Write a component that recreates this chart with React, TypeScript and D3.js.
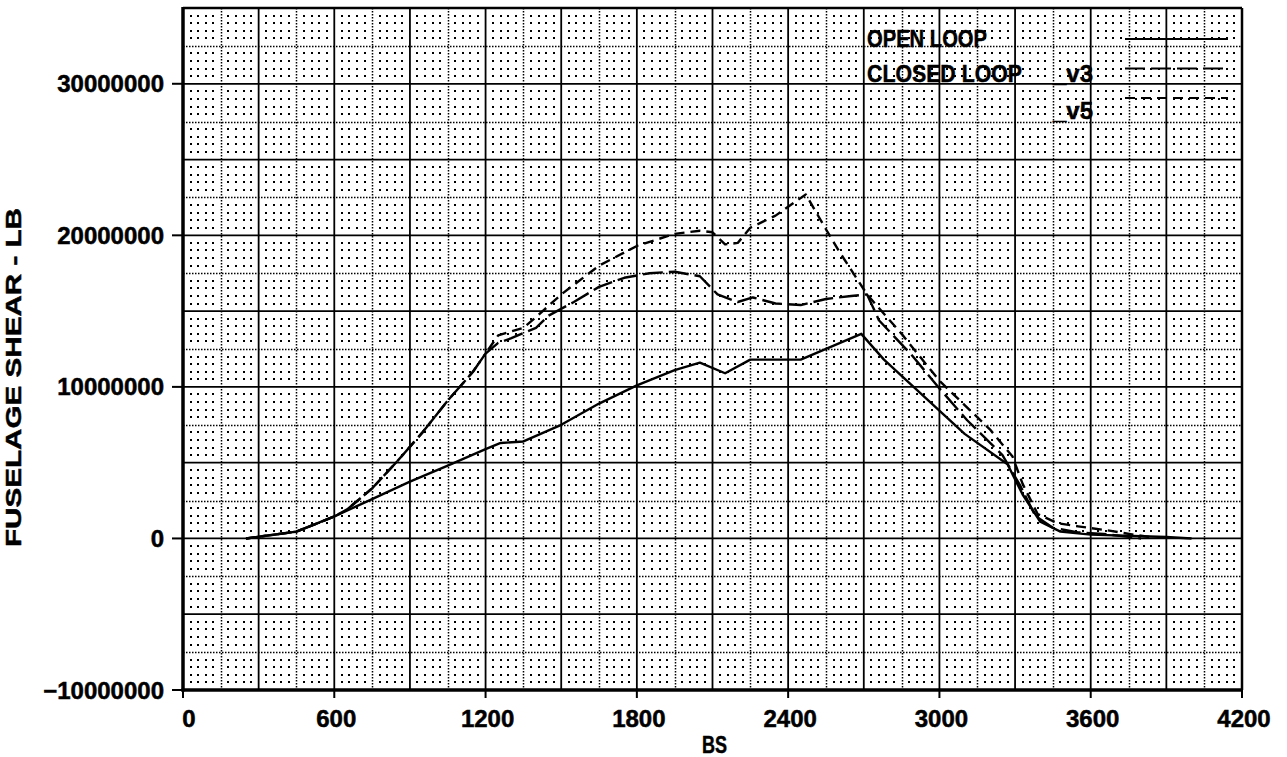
import React from 'react';
import * as d3 from 'd3';

// station (BS) and shear values, shear in millions of lb
const openBS = [250, 450, 600, 750, 900, 1050, 1200, 1260, 1350, 1500, 1650, 1800, 1950, 2050, 2150, 2250, 2450, 2690, 2780, 3100, 3270, 3330, 3400, 3480, 3600, 3900, 4000];
const openV = [0, 0.45, 1.45, 2.6, 3.75, 4.8, 5.9, 6.3, 6.4, 7.5, 8.9, 10.1, 11.1, 11.6, 10.9, 11.8, 11.8, 13.5, 11.8, 6.9, 4.9, 2.9, 1.1, 0.45, 0.25, 0.1, 0];

const v5BS = [250, 450, 600, 650, 750, 850, 950, 1050, 1150, 1200, 1250, 1350, 1400, 1500, 1650, 1800, 1950, 2050, 2100, 2150, 2200, 2250, 2350, 2470, 2550, 2600, 2713, 2850, 3000, 3100, 3200, 3290, 3330, 3390, 3470, 3550, 3680, 3770, 3850];
const v5V = [0, 0.45, 1.45, 1.9, 3.3, 5.1, 7.0, 9.1, 11.0, 12.2, 13.4, 13.9, 14.6, 16.1, 18.0, 19.3, 20.1, 20.3, 20.2, 19.4, 19.5, 20.5, 21.3, 22.7, 20.4, 19.0, 16.1, 13.5, 10.4, 8.8, 7.2, 5.4, 3.6, 1.6, 1.0, 0.8, 0.5, 0.25, 0.05];

const v3BS = [250, 450, 600, 650, 750, 850, 950, 1050, 1150, 1200, 1250, 1300, 1400, 1450, 1550, 1650, 1750, 1850, 1950, 2050, 2120, 2200, 2260, 2350, 2450, 2550, 2650, 2713, 2760, 2890, 3000, 3110, 3250, 3320, 3380, 3450, 3550, 3650, 3750, 3800];
const v3V = [0, 0.45, 1.45, 1.9, 3.3, 5.1, 7.0, 9.1, 11.0, 12.2, 12.9, 13.2, 13.9, 14.7, 15.6, 16.6, 17.2, 17.5, 17.6, 17.3, 16.1, 15.6, 15.9, 15.5, 15.4, 15.8, 16.0, 16.1, 14.4, 12.1, 9.9, 7.8, 5.5, 3.5, 1.5, 0.7, 0.4, 0.3, 0.1, 0];

const xTicks = [0, 600, 1200, 1800, 2400, 3000, 3600, 4200];
const yTicks = [-10, 0, 10, 20, 30];
const legendNames = ['OPEN LOOP', 'CLOSED LOOP', ''];
const legendTags = ['', '_v3', '_v5'];
const legendDash = ['none', '20,6', '10,6'];

const FONT = '"Liberation Sans", Arial, sans-serif';

export default function App() {
  const x = d3.scaleLinear().domain([0, 4200]).range([183, 1242]);
  const y = d3.scaleLinear().domain([-10, 35]).range([690, 8]);
  const line = d3.line<[number, number]>().x(d => x(d[0])).y(d => y(d[1]));

  const series = [
    { pts: openBS.map((b, i) => [b, openV[i]] as [number, number]), dash: legendDash[0] },
    { pts: v3BS.map((b, i) => [b, v3V[i]] as [number, number]), dash: legendDash[1] },
    { pts: v5BS.map((b, i) => [b, v5V[i]] as [number, number]), dash: legendDash[2] },
  ];

  // fine dot grid: every 30 BS and 0.5M, skipping the ruled lines
  let dots = '';
  for (let i = 1; i < 140; i++) {
    if (i % 5 === 0) continue;
    const px = Math.round(x(i * 30)) - 1;
    for (let j = 1; j < 90; j++) {
      if (j % 5 === 0) continue;
      const py = Math.round(y(-10 + j * 0.5)) - 1;
      dots += `M${px} ${py}h2v2h-2z`;
    }
  }
  const majorX = d3.range(0, 4201, 300);
  const minorX = d3.range(150, 4200, 300);
  const majorY = d3.range(-10, 35.1, 5);
  const minorY = d3.range(-7.5, 35, 5);

  return (
    <svg width={1287} height={757} style={{ position: 'absolute', left: 0, top: 0, background: '#fff' }}>
      <rect width={1287} height={757} fill="#fff" />
      <path d={dots} fill="#000" shapeRendering="crispEdges" />
      {minorX.map(v => (
        <line key={'mx' + v} x1={Math.round(x(v)) + 0.5} x2={Math.round(x(v)) + 0.5} y1={y(35)} y2={y(-10)}
          stroke="#000" strokeWidth={1.5} strokeDasharray="1.5,1.5" />
      ))}
      {minorY.map(v => (
        <line key={'my' + v} x1={x(0)} x2={x(4200)} y1={Math.round(y(v)) + 0.5} y2={Math.round(y(v)) + 0.5}
          stroke="#000" strokeWidth={1.5} strokeDasharray="1.5,1.5" />
      ))}
      {majorX.map(v => (
        <line key={'gx' + v} x1={x(v)} x2={x(v)} y1={y(35)} y2={y(-10)} stroke="#000" strokeWidth={1.8} />
      ))}
      {majorY.map(v => (
        <line key={'gy' + v} x1={x(0)} x2={x(4200)} y1={y(v)} y2={y(v)} stroke="#000" strokeWidth={1.8} />
      ))}
      {/* frame */}
      <line x1={x(0)} x2={x(4200)} y1={y(35)} y2={y(35)} stroke="#000" strokeWidth={2.5} />
      <line x1={x(4200)} x2={x(4200)} y1={y(35)} y2={y(-10)} stroke="#000" strokeWidth={2.5} />
      <line x1={x(0)} x2={x(0)} y1={y(35) - 1} y2={y(-10) + 1.5} stroke="#000" strokeWidth={3.5} />
      <line x1={x(0) - 1.5} x2={x(4200) + 1} y1={y(-10)} y2={y(-10)} stroke="#000" strokeWidth={3.5} />

      {/* curves */}
      {series.map((s, i) => (
        <path key={'s' + i} d={line(s.pts) || ''} fill="none" stroke="#000" strokeWidth={2.4}
          strokeDasharray={s.dash === 'none' ? undefined : s.dash} strokeLinejoin="round" />
      ))}

      {/* axes */}
      <g fontFamily={FONT} fontWeight="bold" fontSize={24} fill="#000" stroke="#000" strokeWidth={0.5}>
        {yTicks.map(v => (
          <g key={'yt' + v}>
            <line x1={x(0) - 11} x2={x(0)} y1={y(v)} y2={y(v)} strokeWidth={2} />
            <text x={164} y={y(v) + 8.5} textAnchor="end">{d3.format('d')(v * 1e6)}</text>
          </g>
        ))}
        {xTicks.map(v => (
          <g key={'xt' + v}>
            <line x1={x(v)} x2={x(v)} y1={y(-10)} y2={y(-10) + 8} strokeWidth={2} />
            <text x={x(v) + (v === 0 ? 6 : 2)} y={727} textAnchor="middle">{v}</text>
          </g>
        ))}
        <text x={702} y={753} textLength={25} lengthAdjust="spacingAndGlyphs">BS</text>
        <text transform="translate(21,547) rotate(-90)" x={0} y={0} fontSize={22} textLength={339} lengthAdjust="spacingAndGlyphs">FUSELAGE  SHEAR  -  LB</text>
      </g>

      {/* legend */}
      <g fontFamily={FONT} fontWeight="bold" fontSize={24} fill="#000">
        {legendNames.map((n, i) => (
          <g key={'lg' + i}>
            {n && (
              <text x={867} y={47 + i * 35} stroke="#000" strokeWidth={0.5} textLength={i === 0 ? 120 : 155} lengthAdjust="spacingAndGlyphs">{n}</text>
            )}
            {legendTags[i] && (
              <text x={1053} y={82 + (i - 1) * 37} stroke="#000" strokeWidth={0.5} textLength={40} lengthAdjust="spacingAndGlyphs">{legendTags[i]}</text>
            )}
            <line x1={1125} x2={1228} y1={39 + i * 29.5} y2={39 + i * 29.5} stroke="#000" strokeWidth={2.2}
              strokeDasharray={legendDash[i] === 'none' ? undefined : legendDash[i]} />
          </g>
        ))}
      </g>
    </svg>
  );
}
